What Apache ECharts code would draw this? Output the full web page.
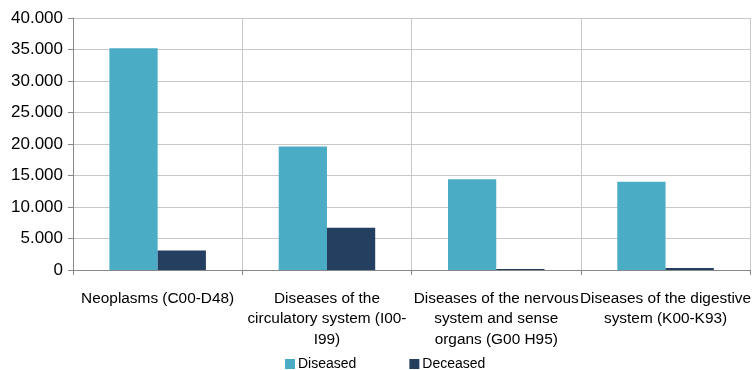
<!DOCTYPE html>
<html><head><meta charset="utf-8">
<script src="https://cdn.jsdelivr.net/npm/echarts@6/dist/echarts.min.js"></script>
<style>html,body{margin:0;padding:0;background:#fff}#c{width:754px;height:370px}</style>
</head><body><div id="c"></div>
<script>
const categories = ['Neoplasms (C00-D48)', 'Diseases of the\ncirculatory system (I00-\nI99)', 'Diseases of the nervous\nsystem and sense\norgans (G00 H95)', 'Diseases of the digestive\nsystem (K00-K93)'];
const diseased = [35200, 19600, 14400, 14000];
const deceased = [3100, 6700, 150, 300];
const seriesNames = ['Diseased', 'Deceased'];
const FONT = '"Liberation Sans", Arial, sans-serif';
const chart = echarts.init(document.getElementById('c'));
chart.setOption({
  animation: false,
  grid: {left: 73, right: 3, top: 18, bottom: 100},
  legend: {
    top: 357, left: 285, padding: 0, itemWidth: 10, itemHeight: 10, itemGap: 53,
    icon: 'rect',
    textStyle: {fontFamily: FONT, fontSize: 14, color: '#000', padding: [0, 0, 0, -2]},
    data: seriesNames
  },
  xAxis: {
    type: 'category', data: categories,
    axisLine: {lineStyle: {color: '#888', width: 1}},
    axisTick: {show: true, length: 5, lineStyle: {color: '#888'}},
    splitLine: {show: true, lineStyle: {color: '#c8c8c8'}},
    axisLabel: {fontFamily: FONT, fontSize: 15.4, color: '#000', lineHeight: 20.5, margin: 18, interval: 0}
  },
  yAxis: {
    type: 'value', min: 0, max: 40000, interval: 5000,
    axisLine: {show: true, lineStyle: {color: '#888'}},
    axisTick: {show: true, length: 5, lineStyle: {color: '#888'}},
    splitLine: {lineStyle: {color: '#c8c8c8'}},
    axisLabel: {fontFamily: FONT, fontSize: 17, color: '#000', margin: 10,
      formatter: v => v === 0 ? '0' : (v / 1000).toFixed(0) + '.000'}
  },
  series: [
    {name: seriesNames[0], type: 'bar', data: diseased, barGap: '0%', barCategoryGap: '43%', itemStyle: {color: '#4BACC6'}},
    {name: seriesNames[1], type: 'bar', data: deceased, itemStyle: {color: '#243F60'}}
  ]
});
</script></body></html>
